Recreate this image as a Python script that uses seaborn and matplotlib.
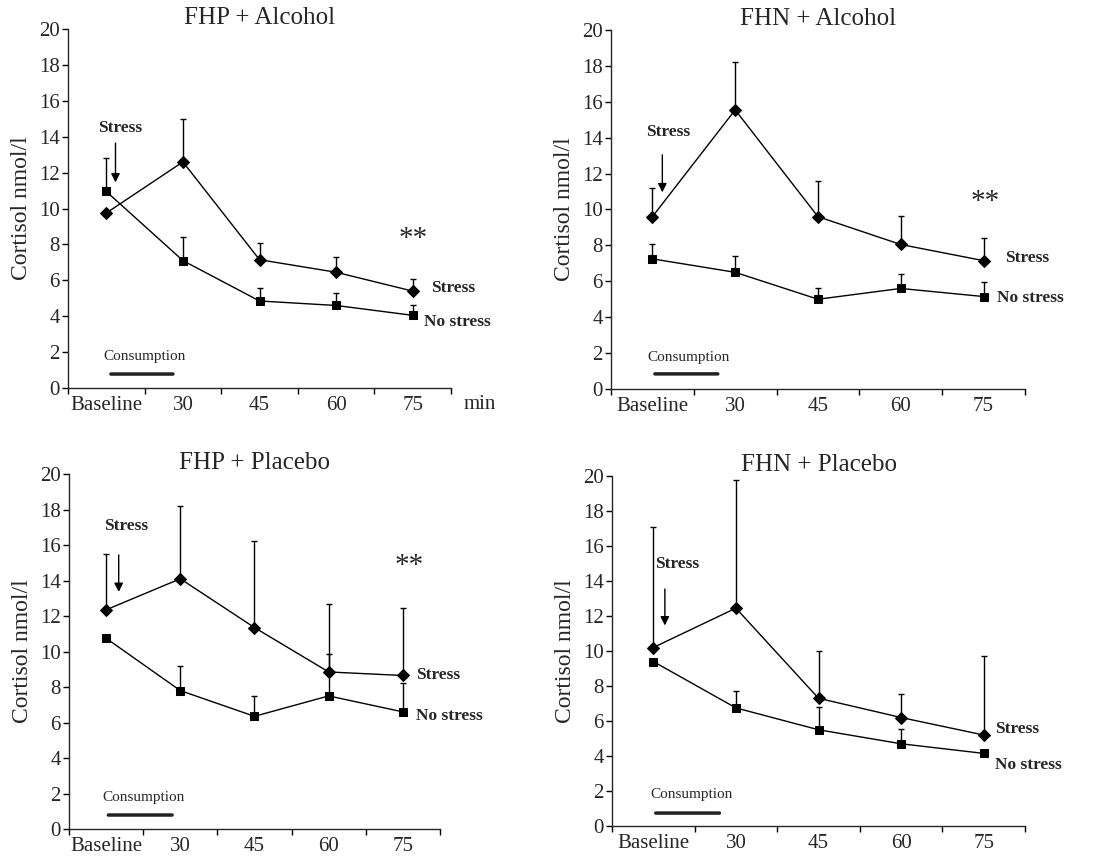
import matplotlib
matplotlib.use('Agg')
import matplotlib.pyplot as plt
import numpy as np
import pandas as pd
import seaborn as sns

# time points (categorical x axis)
times = ['Baseline', '30', '45', '60', '75']

# FHP + Alcohol
fhp_alc_stress = [9.75, 12.6, 7.15, 6.45, 5.4]
fhp_alc_stress_err = [0.0, 2.4, 0.95, 0.85, 0.65]
fhp_alc_nostress = [10.95, 7.1, 4.85, 4.6, 4.05]
fhp_alc_nostress_err = [1.85, 1.3, 0.7, 0.7, 0.55]

# FHN + Alcohol
fhn_alc_stress = [9.6, 15.55, 9.6, 8.05, 7.15]
fhn_alc_stress_err = [1.6, 2.65, 2.0, 1.6, 1.25]
fhn_alc_nostress = [7.25, 6.5, 5.0, 5.6, 5.15]
fhn_alc_nostress_err = [0.85, 0.9, 0.6, 0.8, 0.8]

# FHP + Placebo
fhp_pla_stress = [12.35, 14.1, 11.35, 8.85, 8.65]
fhp_pla_stress_err = [3.15, 4.1, 4.85, 3.85, 3.8]
fhp_pla_nostress = [10.75, 7.8, 6.35, 7.5, 6.6]
fhp_pla_nostress_err = [0.0, 1.4, 1.15, 2.35, 1.65]

# FHN + Placebo
fhn_pla_stress = [10.2, 12.45, 7.3, 6.2, 5.2]
fhn_pla_stress_err = [6.9, 7.3, 2.7, 1.35, 4.5]
fhn_pla_nostress = [9.4, 6.75, 5.5, 4.7, 4.15]
fhn_pla_nostress_err = [0.0, 0.95, 1.3, 0.85, 0.0]

panels = [
    ('FHP + Alcohol', fhp_alc_stress, fhp_alc_stress_err, fhp_alc_nostress, fhp_alc_nostress_err),
    ('FHN + Alcohol', fhn_alc_stress, fhn_alc_stress_err, fhn_alc_nostress, fhn_alc_nostress_err),
    ('FHP + Placebo', fhp_pla_stress, fhp_pla_stress_err, fhp_pla_nostress, fhp_pla_nostress_err),
    ('FHN + Placebo', fhn_pla_stress, fhn_pla_stress_err, fhn_pla_nostress, fhn_pla_nostress_err),
]

# axes rectangles [left, bottom, width, height] in figure fraction
rects = [
    [0.0621, 0.5488, 0.3498, 0.4174],
    [0.5580, 0.5477, 0.3780, 0.4174],
    [0.0630, 0.0360, 0.3388, 0.4128],
    [0.5589, 0.0395, 0.3772, 0.4070],
]

# annotation placement per panel (category index units, data y)
stress_txt = [(0.18, 14.5), (0.19, 14.3), (0.27, 17.1), (0.29, 15.0)]
stress_arrow = [(0.12, 13.8, 11.3), (0.12, 13.2, 10.8), (0.17, 15.6, 13.2), (0.14, 13.7, 11.3)]
consump_txt = [(0.50, 1.75), (0.44, 1.78), (0.50, 1.80), (0.46, 1.83)]
consump_bar = [(0.06, 0.87, 0.78), (0.03, 0.79, 0.84), (0.03, 0.89, 0.79), (0.03, 0.80, 0.74)]
stars = [(4.0, 8.3), (4.02, 10.4), (4.08, 14.8), None]
lab_stress = [(4.24, 5.57), (4.26, 7.3), (4.18, 8.7), (4.14, 5.54)]
lab_nostress = [(4.15, 3.7), (4.16, 5.07), (4.18, 6.37), (4.14, 3.49)]

sns.set_style('ticks')
plt.rcParams['font.family'] = ['Liberation Serif', 'DejaVu Serif']
plt.rcParams['axes.linewidth'] = 1.0

fig = plt.figure(figsize=(10.95, 8.6), dpi=100)
pos = np.arange(len(times))

for i, (title, s, s_err, ns, ns_err) in enumerate(panels):
    ax = fig.add_axes(rects[i])
    df = pd.DataFrame({
        'pos': np.concatenate([pos, pos]),
        'cortisol': s + ns,
        'condition': ['Stress'] * len(s) + ['No stress'] * len(ns),
    })

    # error bars (upper only)
    ax.errorbar(pos, s, yerr=[np.zeros(len(s)), s_err], fmt='none', ecolor='black',
                elinewidth=1, capsize=2.2, capthick=1, zorder=1)
    ax.errorbar(pos, ns, yerr=[np.zeros(len(ns)), ns_err], fmt='none', ecolor='black',
                elinewidth=1, capsize=2.2, capthick=1, zorder=1)

    sns.lineplot(data=df, x='pos', y='cortisol', style='condition',
                 markers={'Stress': 'D', 'No stress': 's'}, dashes=False,
                 color='black', linewidth=1, markersize=6, markeredgecolor='black',
                 legend=False, ax=ax, zorder=3)

    ax.set_xlim(-0.5, len(times) - 0.5)
    ax.set_ylim(0, 20)
    ax.set_yticks(range(0, 21, 2))
    ax.set_xticks(np.arange(-0.5, len(times), 1.0))
    ax.set_xticklabels([])
    ax.set_xticks(pos, minor=True)
    ax.set_xticklabels(times, minor=True)
    ax.tick_params(axis='x', which='major', length=4.5, width=1, direction='out', color='black')
    ax.tick_params(axis='x', which='minor', length=0, pad=6, labelsize=15)
    ax.tick_params(axis='y', length=4, width=1, direction='out', pad=2, labelsize=15, color='black')
    sns.despine(ax=ax)
    ax.set_xlabel('')
    ax.set_ylabel('Cortisol nmol/l', fontsize=17, labelpad=5)
    ax.set_title(title, fontsize=18, pad=2)

    # stress onset marker
    tx, ty = stress_txt[i]
    ax.text(tx, ty, 'Stress', fontsize=12.5, fontweight='bold', ha='center', va='center')
    ax_, y0, y1 = stress_arrow[i]
    ax.annotate('', xy=(ax_, y1), xytext=(ax_, y0),
                arrowprops=dict(arrowstyle='-|>', color='black', lw=1, mutation_scale=13))

    # consumption period
    cx, cy = consump_txt[i]
    ax.text(cx, cy, 'Consumption', fontsize=11, ha='center', va='center')
    bx0, bx1, by = consump_bar[i]
    ax.annotate('', xy=(bx1, by), xytext=(bx0, by),
                arrowprops=dict(arrowstyle='-', color='#222222', lw=2.5, shrinkA=0, shrinkB=0))

    if stars[i] is not None:
        ax.text(stars[i][0], stars[i][1], '**', fontsize=21, ha='center', va='center')

    ax.text(lab_stress[i][0], lab_stress[i][1], 'Stress', fontsize=12.5,
            fontweight='bold', ha='left', va='center')
    ax.text(lab_nostress[i][0], lab_nostress[i][1], 'No stress', fontsize=12.5,
            fontweight='bold', ha='left', va='center')

    if i == 0:
        ax.text(4.87, -0.047, 'min', fontsize=15, ha='center', va='center',
                transform=ax.get_xaxis_transform())

fig.savefig('out.png', dpi=100)
